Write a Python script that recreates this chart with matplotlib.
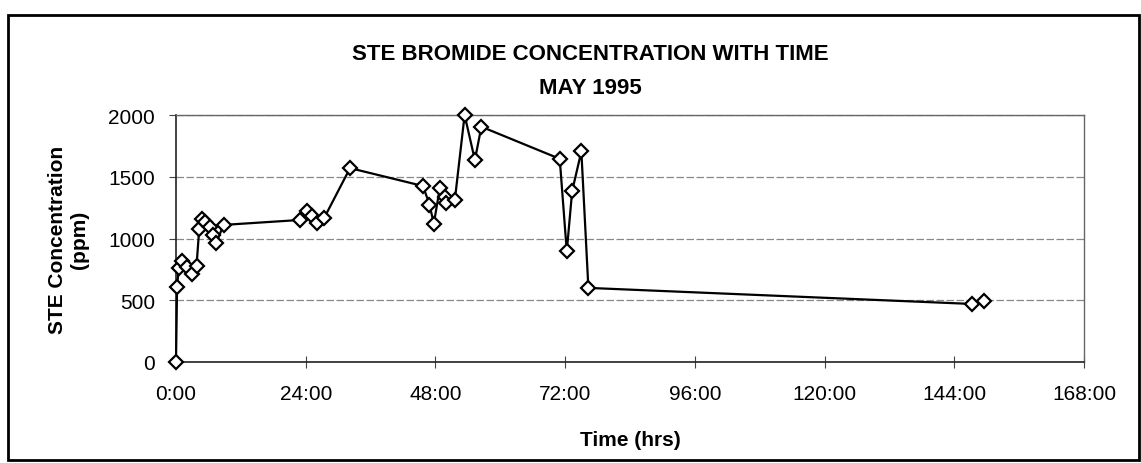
import matplotlib
matplotlib.use("Agg")
import matplotlib.pyplot as plt
from matplotlib.patches import Rectangle
from matplotlib.ticker import FuncFormatter

# time since start (hours) and STE bromide concentration (ppm)
hours = [0.0, 0.2, 0.5, 1.2, 2.0, 3.0, 3.8, 4.3, 4.8, 5.3, 6.2, 6.9, 7.4, 8.8,
         22.9, 24.3, 25.1, 26.0, 27.4, 32.2,
         45.7, 46.9, 47.7, 48.8, 49.7, 50.0, 51.6, 53.4, 55.3, 56.5,
         71.0, 72.3, 73.3, 75.0, 76.3, 147.3, 149.5]
ppm = [0, 610, 760, 815, 770, 715, 780, 1080, 1160, 1130, 1090, 1030, 960, 1110,
       1150, 1225, 1180, 1125, 1165, 1570,
       1425, 1275, 1120, 1405, 1335, 1285, 1315, 2000, 1635, 1905,
       1645, 895, 1385, 1705, 600, 470, 490]

x_ticks = [0, 24, 48, 72, 96, 120, 144, 168]
y_ticks = [0, 500, 1000, 1500, 2000]

plt.rcParams['font.family'] = ['Liberation Sans', 'DejaVu Sans']

fig = plt.figure(figsize=(11.41, 4.64), dpi=100, facecolor="white")
ax = fig.add_axes([176 / 1141, 1 - 363 / 464, (1084 - 176) / 1141, (363 - 116) / 464])

ax.plot(hours, ppm, color="black", linewidth=1.6, marker="D", markersize=7,
        markerfacecolor="white", markeredgecolor="black", markeredgewidth=1.6,
        clip_on=False, zorder=3)

ax.set_xlim(0, 168)
ax.set_ylim(0, 2000)
ax.set_xticks(x_ticks)
ax.set_yticks(y_ticks)
ax.xaxis.set_major_formatter(FuncFormatter(lambda v, p: f"{int(v)}:00"))
ax.tick_params(axis="x", direction="inout", length=8, labelsize=15, pad=12, color="#444444")
ax.tick_params(axis="y", direction="out", length=5, labelsize=15, pad=10, color="#444444")

ax.grid(axis="y", color="#888888", linewidth=0.9, linestyle=(0, (6, 2)))
ax.set_axisbelow(True)
for s in ["top", "right"]:
    ax.spines[s].set_color("#666666")
    ax.spines[s].set_linewidth(1.0)
for s in ["left", "bottom"]:
    ax.spines[s].set_color("#222222")
    ax.spines[s].set_linewidth(1.2)

ax.set_xlabel("Time (hrs)", fontsize=15, fontweight="bold", labelpad=19)
ax.set_ylabel("STE Concentration\n(ppm)", fontsize=15, fontweight="bold", labelpad=14,
              linespacing=1.2)

fig.text(590 / 1141, 1 - 54 / 464, "STE BROMIDE CONCENTRATION WITH TIME",
         ha="center", va="center", fontsize=16, fontweight="bold")
fig.text(590 / 1141, 1 - 88 / 464, "MAY 1995",
         ha="center", va="center", fontsize=16, fontweight="bold")

# outer chart border
fig.patches.append(Rectangle((8 / 1141, 3 / 464), 1131 / 1141, 445 / 464,
                             transform=fig.transFigure, fill=False,
                             edgecolor="black", linewidth=2))

fig.savefig("out.png", dpi=100)
